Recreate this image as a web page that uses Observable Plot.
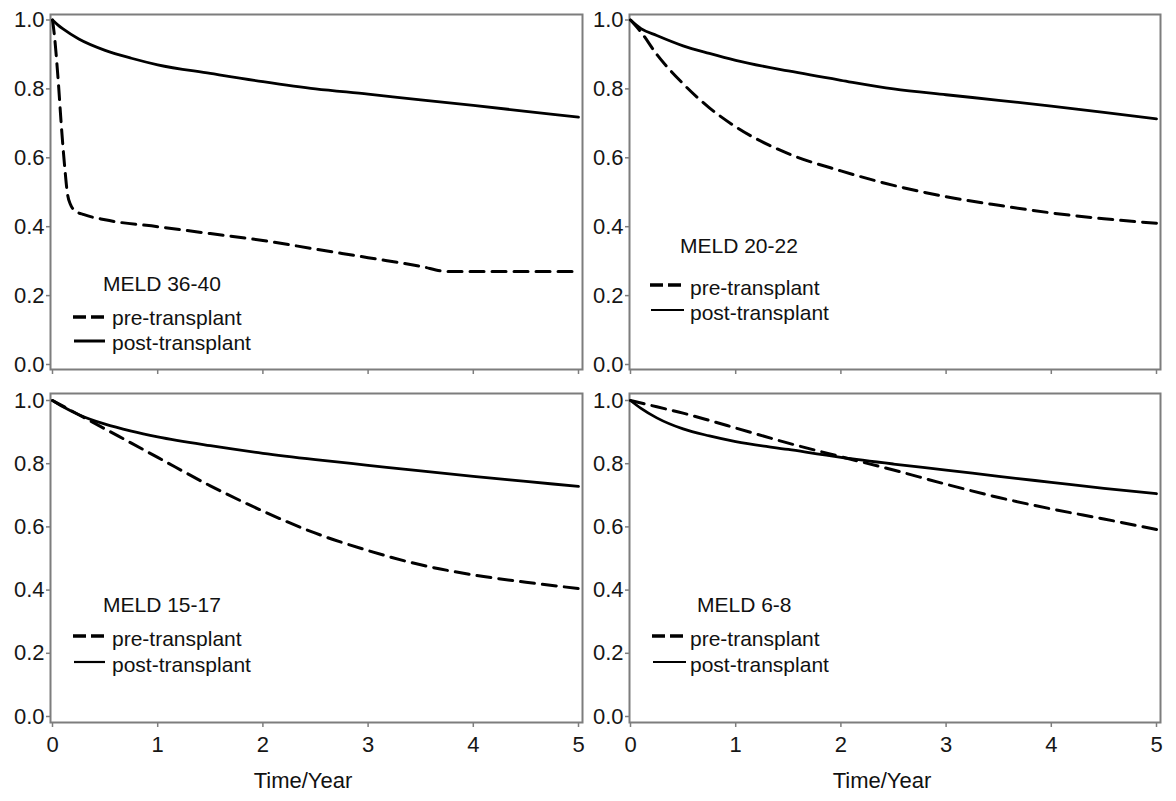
<!DOCTYPE html>
<html><head><meta charset="utf-8">
<script src="https://cdn.jsdelivr.net/npm/d3@7"></script>
<script src="https://cdn.jsdelivr.net/npm/@observablehq/plot@0.6"></script>
<style>
body{margin:0;background:#fff;}
#root{position:relative;width:1176px;height:801px;font-family:"Liberation Sans",Arial,sans-serif;overflow:hidden;}
.panel{position:absolute;}
.panel svg{overflow:visible;}
#overlay{position:absolute;left:0;top:0;}
.xlab{position:absolute;font-size:22px;color:#111;transform:translate(-50%,-50%);white-space:nowrap;}
</style></head><body><div id="root"></div>
<script>
// ---- data (survival probability vs time in years) ----
const yTicks = [0, 0.2, 0.4, 0.6, 0.8, 1.0];
const xTicks = [0, 1, 2, 3, 4, 5];
const seriesNames = ["pre-transplant", "post-transplant"];
const panelTitles = ["MELD 36-40", "MELD 20-22", "MELD 15-17", "MELD 6-8"];
const xTitle = "Time/Year";

const tlPreT = [0,0.02,0.04,0.06,0.08,0.1,0.12,0.14,0.17,0.22,0.3,0.5,1,1.5,2,2.5,3,3.5,3.75,4,4.5,5];
const tlPreV = [1,0.95,0.88,0.8,0.71,0.63,0.56,0.5,0.465,0.445,0.435,0.42,0.40,0.38,0.36,0.335,0.31,0.285,0.27,0.27,0.27,0.27];
const tlPostT = [0,0.05,0.1,0.25,0.5,0.75,1,1.5,2,2.5,3,3.5,4,4.5,5];
const tlPostV = [1,0.986,0.974,0.945,0.912,0.889,0.87,0.845,0.821,0.80,0.785,0.768,0.752,0.735,0.718];

const gridT = [0,0.1,0.25,0.5,0.75,1,1.5,2,2.5,3,3.5,4,4.5,5];
const trPreV  = [1,0.965,0.9,0.815,0.745,0.69,0.612,0.562,0.52,0.487,0.462,0.44,0.423,0.41];
const trPostV = [1,0.975,0.955,0.925,0.903,0.883,0.852,0.825,0.80,0.783,0.767,0.75,0.732,0.713];
const blPreV  = [1,0.982,0.955,0.91,0.865,0.82,0.73,0.65,0.58,0.525,0.48,0.448,0.425,0.405];
const blPostV = [1,0.98,0.955,0.925,0.903,0.885,0.857,0.833,0.813,0.795,0.777,0.76,0.744,0.728];
const brPreV  = [1,0.992,0.98,0.96,0.937,0.913,0.865,0.822,0.78,0.735,0.693,0.657,0.625,0.592];
const brPostV = [1,0.975,0.945,0.91,0.888,0.87,0.845,0.82,0.799,0.78,0.76,0.741,0.722,0.705];

const toRows = (ts, vs) => ts.map((t, i) => ({t, v: vs[i]}));

const root = document.getElementById("root");
const FONT = "Liberation Sans, Arial, sans-serif";

function panel(o) {
  const chart = Plot.plot({
    width: o.width, height: o.height,
    marginLeft: o.mL, marginRight: o.mR, marginTop: o.mT, marginBottom: o.mB,
    insetLeft: o.iL, insetRight: o.iR, insetTop: o.iT, insetBottom: o.iB,
    x: {domain: [0, 5]},
    y: {domain: [0, 1]},
    style: {fontFamily: FONT, fontSize: "22px", color: "#161616", background: "transparent", overflow: "visible"},
    marks: [
      Plot.frame({stroke: "#7d7d7d", strokeWidth: 2}),
      Plot.axisY({ticks: yTicks, tickFormat: d3.format(".1f"), tickSize: 4, tickPadding: 2, stroke: "#7d7d7d", strokeWidth: 1.5, fontSize: 22, fill: "#161616", label: null}),
      Plot.axisX({ticks: xTicks, tickFormat: o.showX ? d3.format("d") : () => "", tickSize: 5, tickPadding: 9, stroke: "#7d7d7d", strokeWidth: 1.5, fontSize: 22, fill: "#161616", label: null}),
      Plot.line(o.pre, {x: "t", y: "v", stroke: "#000", strokeWidth: 3, strokeDasharray: "14,8", curve: "monotone-x"}),
      Plot.line(o.post, {x: "t", y: "v", stroke: "#000", strokeWidth: 2.8, curve: "monotone-x"})
    ]
  });
  const div = document.createElement("div");
  div.className = "panel";
  div.style.left = o.left + "px";
  div.style.top = o.top + "px";
  div.appendChild(chart);
  root.appendChild(div);
}

panel({left: 0, top: 0, width: 590, height: 385, mL: 50, mR: 8, mT: 14, mB: 16, iL: 2, iR: 4, iT: 5.5, iB: 5,
  pre: toRows(tlPreT, tlPreV), post: toRows(tlPostT, tlPostV), showX: false});
panel({left: 580, top: 0, width: 596, height: 385, mL: 49, mR: 16, mT: 14, mB: 16, iL: 1, iR: 4, iT: 5.5, iB: 5,
  pre: toRows(gridT, trPreV), post: toRows(gridT, trPostV), showX: false});
panel({left: 0, top: 385, width: 590, height: 416, mL: 50, mR: 8, mT: 8, mB: 79, iL: 2, iR: 4, iT: 7, iB: 6,
  pre: toRows(gridT, blPreV), post: toRows(gridT, blPostV), showX: true});
panel({left: 580, top: 385, width: 596, height: 416, mL: 49, mR: 16, mT: 8, mB: 79, iL: 1, iR: 4, iT: 7, iB: 6,
  pre: toRows(gridT, brPreV), post: toRows(gridT, brPostV), showX: true});

// x-axis titles
[[303, 781], [882, 781]].forEach(([x, y]) => {
  const d = document.createElement("div");
  d.className = "xlab";
  d.style.left = x + "px"; d.style.top = y + "px";
  d.textContent = xTitle;
  root.appendChild(d);
});

// in-panel legends
const NS = "http://www.w3.org/2000/svg";
const ov = document.createElementNS(NS, "svg");
ov.setAttribute("id", "overlay");
ov.setAttribute("width", 1176); ov.setAttribute("height", 801);
ov.style.fontFamily = FONT; ov.style.fontSize = "21px";
root.appendChild(ov);
function el(tag, attrs, text) {
  const e = document.createElementNS(NS, tag);
  for (const k in attrs) e.setAttribute(k, attrs[k]);
  if (text) e.textContent = text;
  ov.appendChild(e);
}
const legends = [
  {title: panelTitles[0], tx: 103, ty: 291, lx0: 73, lx1: 105, textX: 112, b1: 325, b2: 350, l1: 317, l2: 341, sw: 3},
  {title: panelTitles[1], tx: 680, ty: 253, lx0: 650, lx1: 684, textX: 690, b1: 295, b2: 320, l1: 285, l2: 310, sw: 2},
  {title: panelTitles[2], tx: 103, ty: 612, lx0: 73, lx1: 105, textX: 112, b1: 646, b2: 672, l1: 636, l2: 662, sw: 2.2},
  {title: panelTitles[3], tx: 697, ty: 612, lx0: 652, lx1: 686, textX: 690, b1: 646, b2: 672, l1: 636, l2: 662, sw: 2.2}
];
legends.forEach(L => {
  el("text", {x: L.tx, y: L.ty, fill: "#111"}, L.title);
  el("line", {x1: L.lx0, x2: L.lx1, y1: L.l1, y2: L.l1, stroke: "#000", "stroke-width": 3.5, "stroke-dasharray": "13,5"});
  el("text", {x: L.textX, y: L.b1, fill: "#111"}, seriesNames[0]);
  el("line", {x1: L.lx0 + 1, x2: L.lx1, y1: L.l2, y2: L.l2, stroke: "#000", "stroke-width": L.sw});
  el("text", {x: L.textX, y: L.b2, fill: "#111"}, seriesNames[1]);
});
</script>
</body></html>
